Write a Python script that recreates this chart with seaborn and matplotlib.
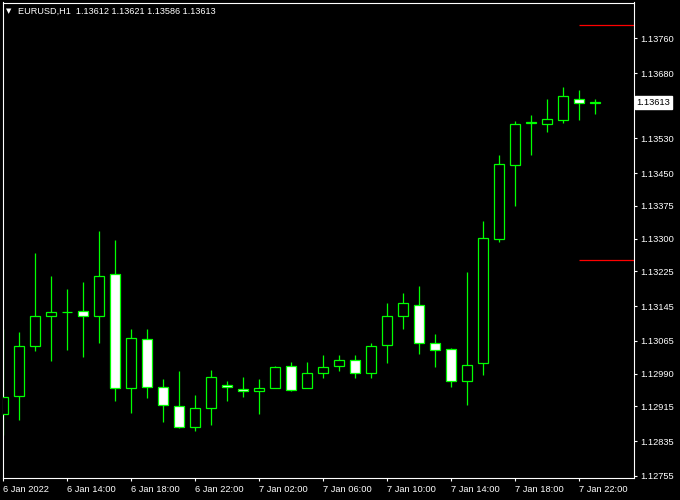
import pandas as pd
import seaborn as sns
import matplotlib.pyplot as plt

# EURUSD H1 candles, 6 Jan 2022 10:00 -> 7 Jan 2022 23:00
times = pd.date_range("2022-01-06 10:00", periods=38, freq="h")
opens = [1.12897, 1.12938, 1.13053, 1.13122, 1.13131, 1.13133, 1.13122, 1.13218,
         1.12956, 1.13069, 1.12959, 1.12915, 1.12868, 1.12912, 1.12965, 1.12955,
         1.12950, 1.12958, 1.13007, 1.12956, 1.12991, 1.13007, 1.13021, 1.12991,
         1.13055, 1.13122, 1.13147, 1.13060, 1.13046, 1.12972, 1.13015, 1.13300,
         1.13470, 1.13565, 1.13564, 1.13573, 1.13620, 1.13612]
highs = [1.13093, 1.13086, 1.13267, 1.13214, 1.13184, 1.13200, 1.13318, 1.13297,
         1.13093, 1.13093, 1.12978, 1.12996, 1.12941, 1.12998, 1.12973, 1.12982,
         1.12977, 1.13008, 1.13017, 1.13017, 1.13032, 1.13032, 1.13032, 1.13060,
         1.13152, 1.13175, 1.13191, 1.13080, 1.13048, 1.13223, 1.13340, 1.13492,
         1.13570, 1.13584, 1.13621, 1.13648, 1.13641, 1.13621]
lows = [1.12848, 1.12884, 1.13043, 1.13020, 1.13045, 1.13029, 1.13061, 1.12928,
        1.12900, 1.12935, 1.12880, 1.12866, 1.12859, 1.12873, 1.12928, 1.12937,
        1.12898, 1.12958, 1.12951, 1.12956, 1.12981, 1.12997, 1.12981, 1.12981,
        1.13014, 1.13093, 1.13034, 1.13006, 1.12960, 1.12918, 1.12987, 1.13292,
        1.13375, 1.13492, 1.13545, 1.13566, 1.13572, 1.13586]
closes = [1.12936, 1.13053, 1.13122, 1.13131, 1.13131, 1.13122, 1.13214, 1.12956,
          1.13071, 1.12959, 1.12917, 1.12867, 1.12910, 1.12982, 1.12959, 1.12950,
          1.12956, 1.13005, 1.12953, 1.12991, 1.13005, 1.13021, 1.12991, 1.13053,
          1.13122, 1.13152, 1.13060, 1.13044, 1.12972, 1.13011, 1.13301, 1.13471,
          1.13563, 1.13567, 1.13574, 1.13628, 1.13612, 1.13613]

# price scale ticks (as MT4 prints them)
price_ticks = [1.13760, 1.13680, 1.13605, 1.13530, 1.13450, 1.13375, 1.13300,
               1.13225, 1.13145, 1.13065, 1.12990, 1.12915, 1.12835, 1.12755]
# two indicator levels drawn on the right
levels = [1.13791, 1.13250]
last_price = 1.13613

df = pd.DataFrame({"time": times, "open": opens, "high": highs,
                   "low": lows, "close": closes})
df["i"] = range(len(df))
df["bottom"] = df[["open", "close"]].min(axis=1)
df["body"] = (df["close"] - df["open"]).abs()
df["fill"] = ["black" if c >= o else "white" for o, c in zip(df["open"], df["close"])]

sns.set_theme(style="dark", rc={
    "axes.facecolor": "black", "figure.facecolor": "black",
    "axes.edgecolor": "white", "axes.linewidth": 0.8,
    "xtick.color": "white", "ytick.color": "white",
    "text.color": "white",
})
plt.rcParams["font.family"] = ["Liberation Sans", "DejaVu Sans"]

green = "#00ff00"
fs = 6.7
fig = plt.figure(figsize=(6.8, 5), dpi=100)
ax = fig.add_axes([2.5 / 680, 1 - 478 / 500, (634 - 2.5) / 680, (478 - 2.5) / 500])

# wicks, then bodies on top
ax.vlines(df["i"], df["low"], df["high"], color=green, linewidth=0.9, zorder=2)
ax.bar(df["i"], df["body"], bottom=df["bottom"], width=0.6, color=df["fill"],
       edgecolor=green, linewidth=0.9, zorder=3)

ax.set_xlim(-0.05, 39.42)
ax.set_ylim(1.127504, 1.138422)

for lv in levels:
    ax.hlines(lv, 36, 39.42, color="red", linewidth=0.9, zorder=2)

# y axis on the right; the label hidden under the price box is left blank
ax.yaxis.tick_right()
ax.set_yticks(price_ticks)
ax.set_yticklabels(["" if abs(p - last_price) < 0.0002 else f"{p:.5f}"
                    for p in price_ticks])
ax.tick_params(axis="y", direction="out", length=2.5, width=0.8, pad=2,
               labelsize=fs, colors="white", right=True, left=False)

# x axis: every 4 hours
xt = df[df["time"].dt.hour % 4 == 2]
xlabels = [t.strftime("%-d %b %H:%M") for t in xt["time"]]
xlabels[0] = xt["time"].iloc[0].strftime("%-d %b %Y")
ax.set_xticks(xt["i"])
ax.set_xticklabels(xlabels, ha="left")
ax.tick_params(axis="x", direction="out", length=2.5, width=0.8, pad=2.5,
               labelsize=fs, colors="white", bottom=True)

for s in ax.spines.values():
    s.set_color("white")
    s.set_visible(True)
ax.grid(False)

# current price box
ax.text(1.004, last_price, f"{last_price:.5f}", transform=ax.get_yaxis_transform(),
        ha="left", va="center", fontsize=fs, color="black", zorder=10,
        bbox=dict(boxstyle="square,pad=0.2", fc="white", ec="white"), clip_on=False)

# header
fig.text(6 / 680, 1 - 11 / 500, "▼", fontsize=5, color="white", va="center",
         family=["DejaVu Sans"])
fig.text(18 / 680, 1 - 11 / 500,
         "EURUSD,H1  1.13612 1.13621 1.13586 1.13613",
         fontsize=6.6, color="white", va="center")

fig.savefig("out.png", dpi=100, facecolor="black")
